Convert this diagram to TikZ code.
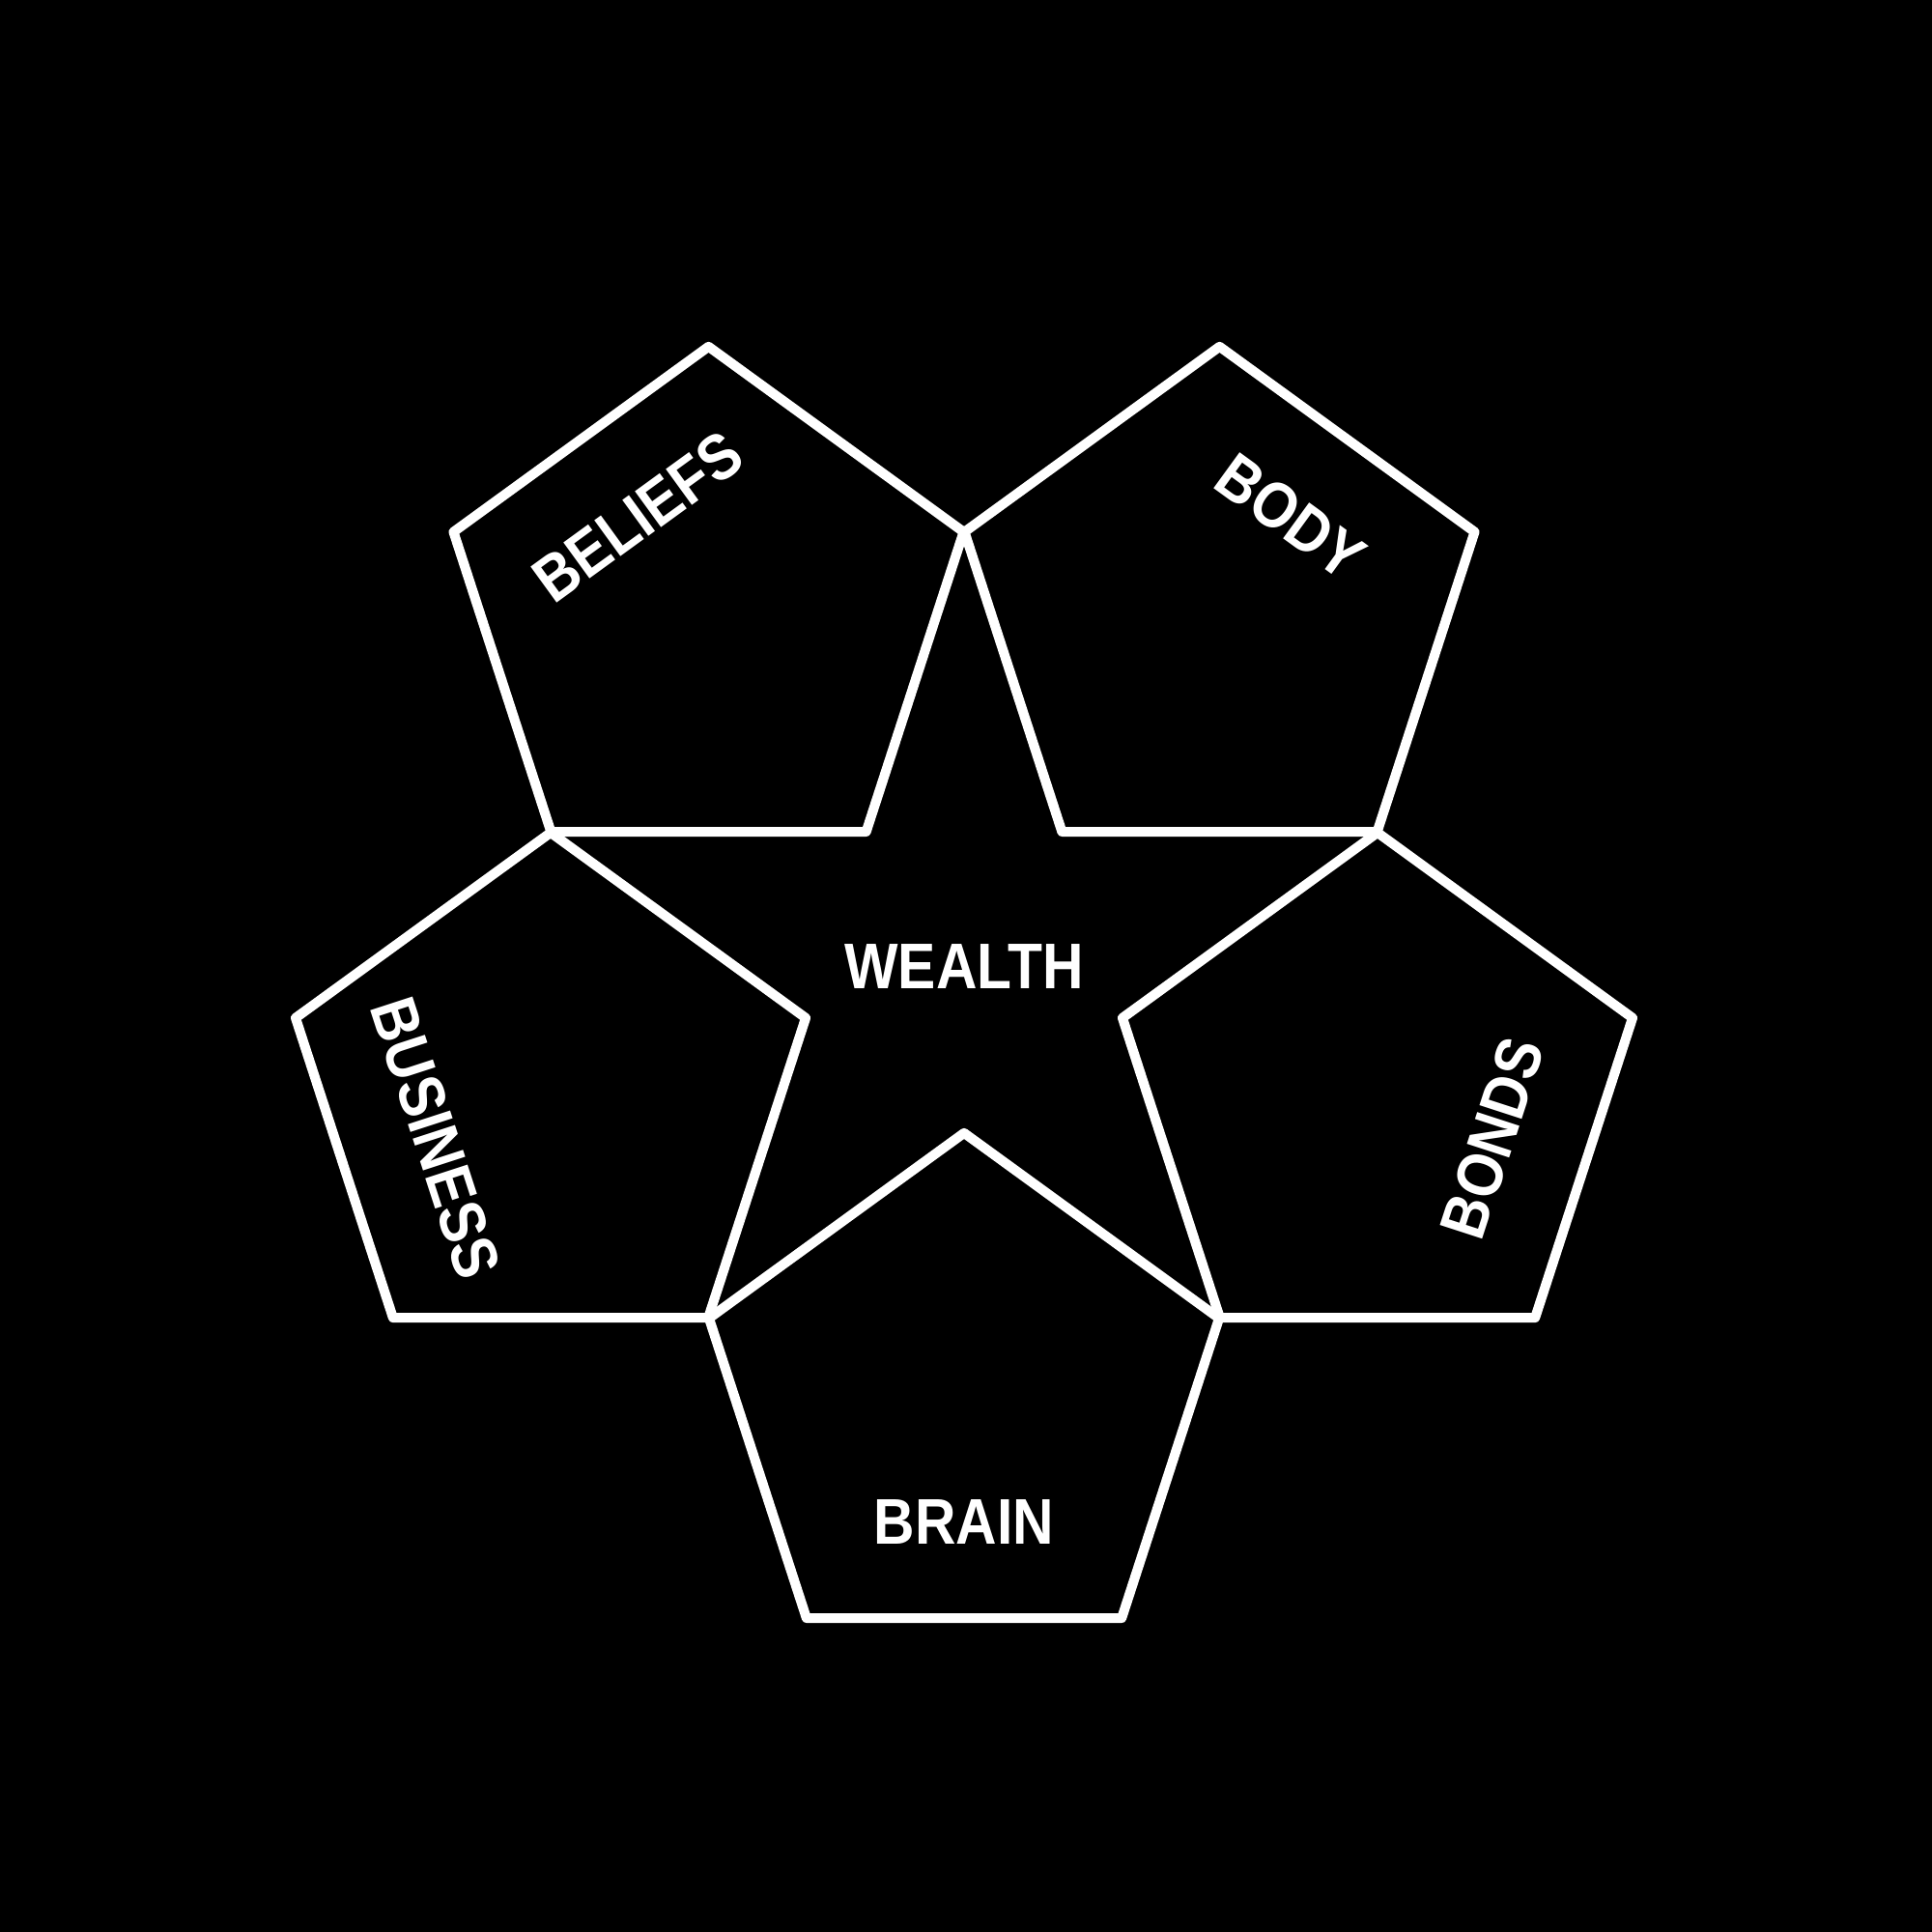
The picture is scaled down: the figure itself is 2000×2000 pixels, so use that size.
\documentclass[tikz,border=0pt]{standalone}
\usepackage{fontspec}
\setmainfont{Liberation Sans}[FakeStretch=0.88]
\begin{document}
\begin{tikzpicture}[x=0.01cm,y=0.01cm,
  pent/.style={draw=white, line width=0.1cm, line join=round},
  lbl/.style={text=white, inner sep=0pt, font=\bfseries\fontsize{19}{19}\selectfont}]
\useasboundingbox (0,0) rectangle (2000,2000);
\fill[black] (0,0) rectangle (2000,2000);
\coordinate (C) at (998,999.5);
\begin{scope}[shift={(998,999.5)}]
  \foreach \a/\n in {126/beliefs,54/body,198/business,270/brain,342/bonds}{
    \coordinate (\n) at (\a:450);
    \draw[pent, shift={(\a:450)}] (90:277.6) -- (162:277.6) -- (234:277.6) -- (306:277.6) -- (18:277.6) -- cycle;
  }
  \node[lbl] (wealth) at (0,0) {WEALTH};
  \node[lbl, rotate=36]  (tbeliefs)  at (126:575) {BELIEFS};
  \node[lbl, rotate=-36] (tbody)     at (54:575)  {BODY};
  \node[lbl, rotate=-72] (tbusiness) at (198:575) {BUSINESS};
  \node[lbl, rotate=72]  (tbonds)    at (342:575) {BONDS};
  \node[lbl]             (tbrain)    at (270:575) {BRAIN};
\end{scope}
\end{tikzpicture}
\end{document}
